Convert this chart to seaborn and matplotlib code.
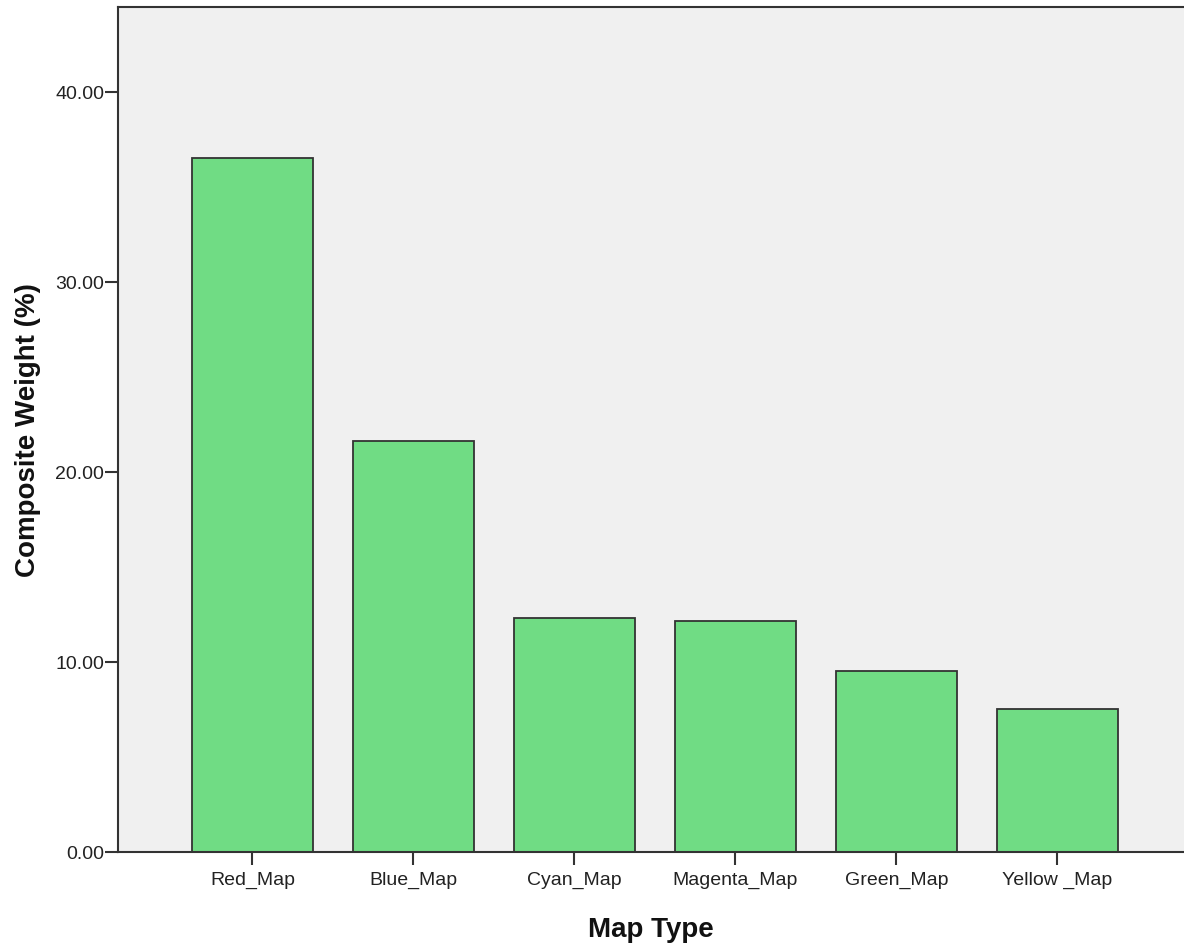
import pandas as pd
import numpy as np
import seaborn as sns
import matplotlib.pyplot as plt

# values
map_types = ['Red_Map', 'Blue_Map', 'Cyan_Map', 'Magenta_Map', 'Green_Map', 'Yellow _Map']
weights = [36.53, 21.63, 12.34, 12.16, 9.53, 7.51]
y_ticks = [0, 10, 20, 30, 40]

df = pd.DataFrame({'map_type': map_types, 'weight': weights})

sns.set_style('white')
plt.rcParams['font.family'] = ['Liberation Sans', 'DejaVu Sans']

fig = plt.figure(figsize=(11.84, 9.47), dpi=100)
ax = fig.add_axes([118 / 1184, 95 / 947, 1 - 118 / 1184, (852 - 7.5) / 947])
ax.set_facecolor('#f0f0f0')

sns.barplot(data=df, x='map_type', y='weight', color='#70dc84', saturation=1,
            width=0.75, edgecolor='#333333', linewidth=1.3, ax=ax)

ax.set_xlim(-0.835, 5.786)
ax.set_ylim(0, 44.45)
ax.set_yticks(y_ticks)
ax.set_yticklabels(['{:.2f}'.format(v) for v in y_ticks])

ax.tick_params(axis='both', which='both', direction='out', length=9.5, width=1.5,
               color='#333333', labelsize=14, labelcolor='#222222',
               left=True, bottom=True)
ax.tick_params(axis='x', pad=5)
ax.tick_params(axis='y', pad=0.5)

ax.set_xlabel('Map Type', fontsize=20, fontweight='bold', labelpad=20, color='#111111')
ax.set_ylabel('Composite Weight (%)', fontsize=20, fontweight='bold', labelpad=10, color='#111111')

for side in ['left', 'bottom', 'top']:
    ax.spines[side].set_visible(True)
    ax.spines[side].set_color('#333333')
    ax.spines[side].set_linewidth(1.5)
ax.spines['right'].set_visible(False)

plt.savefig('out.png', dpi=100, facecolor='w')
